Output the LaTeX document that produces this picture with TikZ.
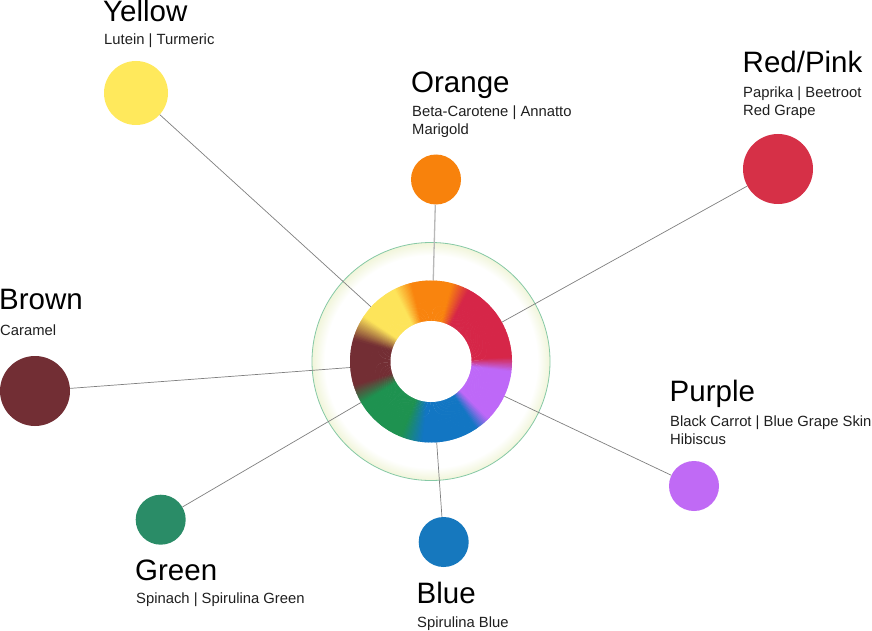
\documentclass[tikz,border=0pt]{standalone}
\usepackage{fontspec}
\setmainfont{Liberation Sans}

\definecolor{cYellow}{HTML}{FFE95C}
\definecolor{cOrange}{HTML}{F8820C}
\definecolor{cRed}{HTML}{D63047}
\definecolor{cBrown}{HTML}{722E34}
\definecolor{cPurple}{HTML}{C06AF5}
\definecolor{cGreen}{HTML}{2A8C67}
\definecolor{cBlue}{HTML}{1678BE}
% wheel colours
\definecolor{rYellow}{HTML}{FDE45A}
\definecolor{rOrange}{HTML}{F9840E}
\definecolor{rRed}{HTML}{D62648}
\definecolor{rPurple}{HTML}{BE68F8}
\definecolor{rBlue}{HTML}{1276C3}
\definecolor{rGreen}{HTML}{1E9250}
\definecolor{rBrown}{HTML}{732E34}
\definecolor{cGlow}{HTML}{F1F5DA}
\definecolor{cRim}{HTML}{86C9A6}

\pgfdeclareradialshading{glow}{\pgfpoint{0bp}{0bp}}{color(0bp)=(white); color(22.3bp)=(white); color(24.3bp)=(cGlow!75!white); color(25bp)=(cGlow); color(50bp)=(cGlow)}

\tikzset{
  dot/.style={circle, inner sep=0pt, draw=none},
  title/.style={anchor=base west, inner sep=0pt, font=\fontsize{29.5}{31}\selectfont},
  sub/.style={anchor=base west, inner sep=0pt, font=\fontsize{14.8}{18}\selectfont, text=black!88},
  link/.style={draw=black!50, line width=0.7pt},
}

\begin{document}
\begin{tikzpicture}[x=1pt,y=1pt]
	\useasboundingbox[fill=white] (0,0) rectangle (872,-631);

	% halo round the wheel
	\shade[shading=glow] (431,-361.5) circle (119);
	\draw[cRim, line width=0.8pt] (431,-361.5) circle (119);
	\node[circle, inner sep=0pt, minimum size=162pt] (wheel) at (431,-361.5) {};

	% colour dots
	\node[dot, fill=cYellow, minimum size=64pt] (yellow) at (136,-93) {};
	\node[dot, fill=cOrange, minimum size=50pt] (orange) at (436,-179.5) {};
	\node[dot, fill=cRed, minimum size=70pt] (red) at (778,-169) {};
	\node[dot, fill=cBrown, minimum size=70pt] (brown) at (35,-391) {};
	\node[dot, fill=cPurple, minimum size=50pt] (purple) at (694,-486) {};
	\node[dot, fill=cGreen, minimum size=50pt] (green) at (160.7,-519.7) {};
	\node[dot, fill=cBlue, minimum size=50pt] (blue) at (443.7,-542) {};

	\foreach \c in {yellow,red,brown,purple,green,blue}
		\draw[link] (\c) -- (wheel);
	\draw[link, draw=black!28, line width=1.3pt] (orange) -- (wheel);

	% the wheel itself
	\begin{scope}[shift={(431,-361.5)}]
	\foreach \a/\b/\ca/\cb in {-196/-163/rBrown/rBrown, -163/-149/rBrown/rGreen, -149/-112/rGreen/rGreen, -112/-96/rGreen/rBlue, -96/-56/rBlue/rBlue, -56/-45/rBlue/rPurple, -45/-7/rPurple/rPurple, -7/3/rPurple/rRed, 3/62/rRed/rRed, 62/75/rRed/rOrange, 75/104/rOrange/rOrange, 104/117/rOrange/rYellow, 117/146/rYellow/rYellow, 146/164/rYellow/rBrown}{
		\pgfmathtruncatemacro{\n}{\b-\a-1}
		\foreach \s in {0,...,\n}{
			\pgfmathtruncatemacro{\p}{100*(\s+0.5)/(\b-\a)}
			\pgfmathsetmacro{\t}{\a+\s}
			\pgfmathsetmacro{\u}{\a+\s+1.5}
			\colorlet{seg}{\cb!\p!\ca}
			\fill[seg] (0,0) -- (\t:81) arc[start angle=\t, end angle=\u, radius=81] -- cycle;
		}
	}
	\fill[white] (0,0) circle (40.5);
	\end{scope}

	% labels
	\node[title] (yellowT) at (103,-21.8) {Yellow};
	\node[sub] (yellowS) at (104,-45) {Lutein | Turmeric};
	\node[title] (orangeT) at (411,-93) {Orange};
	\node[sub] (orangeS) at (412,-117) {Beta-Carotene | Annatto};
	\node[sub] (orangeS2) at (412,-135) {Marigold};
	\node[title] (redT) at (742.5,-73) {Red/Pink};
	\node[sub] (redS) at (743,-97.5) {Paprika | Beetroot};
	\node[sub] (redS2) at (743,-115.5) {Red Grape};
	\node[title] (brownT) at (-1,-309.5) {Brown};
	\node[sub] (brownS) at (0,-335) {Caramel};
	\node[title] (purpleT) at (669.5,-401.5) {Purple};
	\node[sub] (purpleS) at (670,-426) {Black Carrot | Blue Grape Skin};
	\node[sub] (purpleS2) at (670,-444) {Hibiscus};
	\node[title] (greenT) at (135,-580) {Green};
	\node[sub] (greenS) at (136,-603.5) {Spinach | Spirulina Green};
	\node[title] (blueT) at (416.5,-603.5) {Blue};
	\node[sub] (blueS) at (417,-627.5) {Spirulina Blue};
\end{tikzpicture}
\end{document}
